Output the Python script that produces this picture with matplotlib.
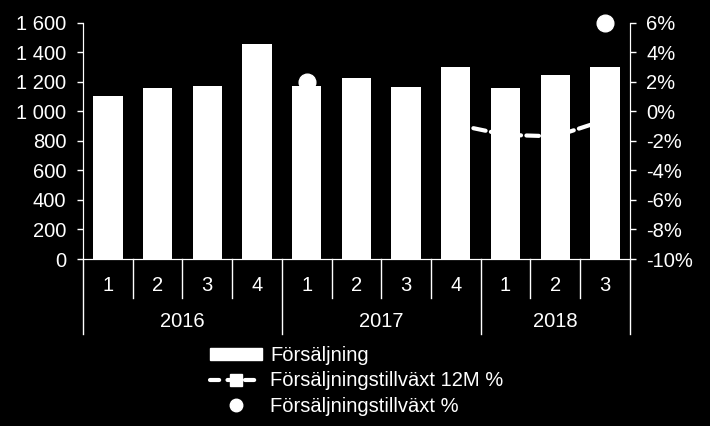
import matplotlib
matplotlib.use("Agg")
import matplotlib.pyplot as plt
from matplotlib.ticker import FuncFormatter, MultipleLocator
from matplotlib.lines import Line2D
from matplotlib.patches import Patch

plt.rcParams['font.family'] = ['Liberation Sans', 'DejaVu Sans']

# data
years = ["2016", "2017", "2018"]
quarters = ["1", "2", "3", "4", "1", "2", "3", "4", "1", "2", "3"]
sales = [1103, 1157, 1171, 1458, 1171, 1225, 1164, 1300, 1157, 1245, 1300]
growth_12m = [None, None, None, None, None, None, None, -0.9, -1.6, -1.7, -0.6]
growth_q = [None, None, None, None, 2.0, None, None, None, None, None, 6.0]

x = list(range(len(quarters)))
fs = 14.5

fig = plt.figure(figsize=(7.1, 4.26), dpi=100, facecolor="black")
ax = fig.add_axes([0.117, 0.392, 0.770, 0.555], facecolor="black")
ax2 = ax.twinx()

ax.bar(x, sales, width=0.59, color="white", zorder=2)

x12 = [i for i, v in zip(x, growth_12m) if v is not None]
y12 = [v for v in growth_12m if v is not None]
ax2.plot(x12, y12, color="white", lw=3, linestyle=(0, (3, 1.3)),
         dash_capstyle="round", marker="s", markersize=7, zorder=3)

xq = [i for i, v in zip(x, growth_q) if v is not None]
yq = [v for v in growth_q if v is not None]
ax2.plot(xq, yq, linestyle="none", marker="o", markersize=12,
         color="white", zorder=4, clip_on=False)

ax.set_xlim(-0.5, len(quarters) - 0.5)
ax.set_ylim(0, 1600)
ax.yaxis.set_major_locator(MultipleLocator(200))
ax.yaxis.set_major_formatter(FuncFormatter(lambda v, p: f"{int(v):,}".replace(",", " ")))
ax2.set_ylim(-10, 6)
ax2.yaxis.set_major_locator(MultipleLocator(2))
ax2.yaxis.set_major_formatter(FuncFormatter(lambda v, p: f"{int(v)}%"))

for a in (ax, ax2):
    for s in a.spines.values():
        s.set_color("white")
    a.spines["top"].set_visible(False)
    a.tick_params(colors="white", labelsize=fs, length=4, width=1, pad=8)

# category axis
ax.set_xticks([])
trans = ax.get_xaxis_transform()
for i, q in enumerate(quarters):
    ax.text(i, -0.11, q, transform=trans, ha="center", va="center",
            color="white", fontsize=fs)
for i in range(len(quarters) + 1):
    bound = i in (0, 4, 8, len(quarters))
    ax.plot([i - 0.5, i - 0.5], [0, -0.318 if bound else -0.164],
            transform=trans, color="white", lw=1, clip_on=False)
year_centers = [1.5, 5.5, 9.0]
for xc, yr in zip(year_centers, years):
    ax.text(xc, -0.265, yr, transform=trans, ha="center", va="center",
            color="white", fontsize=fs)

handles = [
    Patch(facecolor="white", edgecolor="white"),
    Line2D([0], [0], color="white", lw=3, linestyle=(0, (2.2, 2.0)),
           dash_capstyle="round", marker="s", markersize=8),
    Line2D([0], [0], color="white", linestyle="none", marker="o", markersize=9),
]
labels = ["Försäljning", "Försäljningstillväxt 12M %", "Försäljningstillväxt %"]
leg = fig.legend(handles, labels, loc="upper left",
                 bbox_to_anchor=(210 / 710, 1 - 346 / 426), frameon=False,
                 fontsize=fs, handlelength=2.6, handleheight=0.6,
                 handletextpad=0.4, labelspacing=0.32,
                 borderpad=0, borderaxespad=0)
for t in leg.get_texts():
    t.set_color("white")

fig.savefig("out.png", dpi=100, facecolor="black")
